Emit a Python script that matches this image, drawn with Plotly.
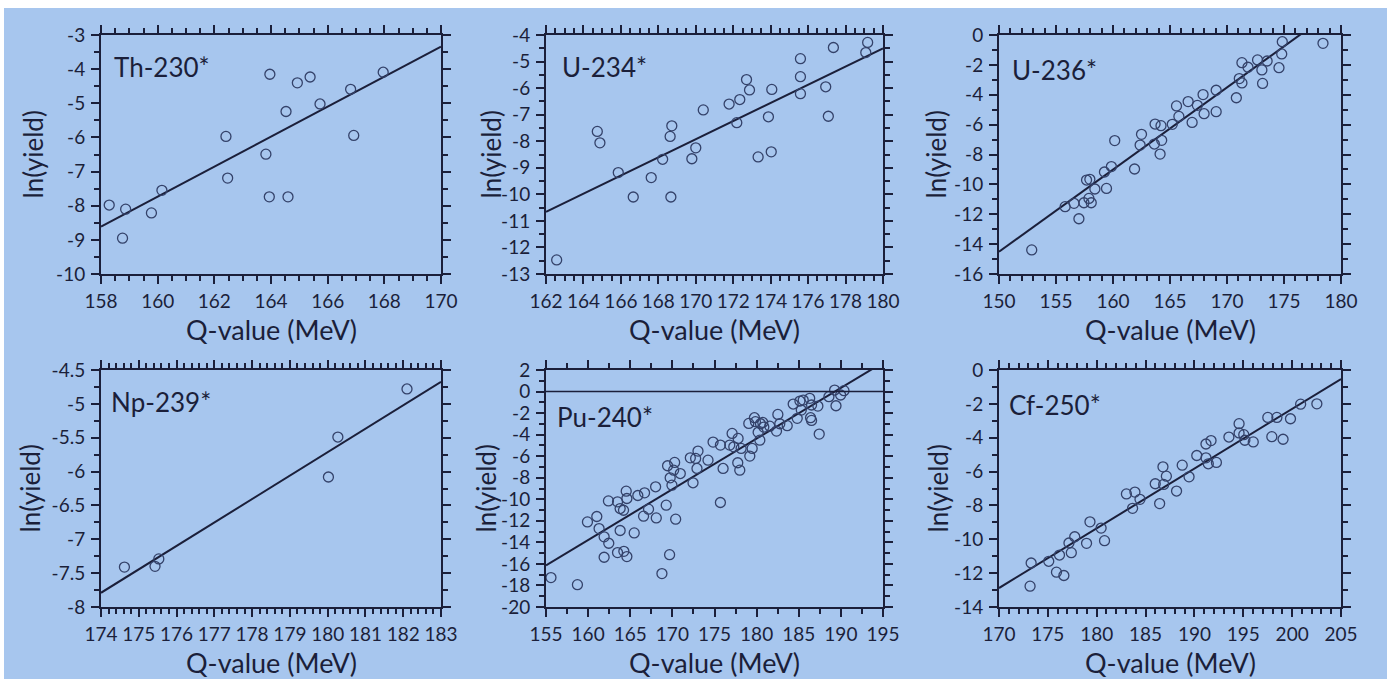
import plotly.graph_objects as go

# ---- data: Q-value (MeV) vs ln(yield) for each fissioning nucleus ----
th230_q = [158.29, 158.87, 158.76, 159.78, 160.15, 162.41, 162.47, 163.82, 163.96,
           163.94, 164.60, 164.53, 164.93, 165.38, 165.73, 166.81, 166.92, 167.96]
th230_y = [-7.98, -8.10, -8.95, -8.21, -7.55, -5.97, -7.19, -6.49, -4.15,
           -7.74, -7.74, -5.24, -4.40, -4.23, -5.02, -4.59, -5.94, -4.09]

u234_q = [162.57, 164.74, 164.88, 165.86, 166.66, 167.62, 168.23, 168.63, 168.72, 168.67,
          169.79, 170.00, 170.40, 171.78, 172.19, 172.35, 172.71, 172.87, 173.33, 173.88,
          174.06, 174.03, 175.59, 175.59, 175.59, 176.94, 177.08, 177.35, 179.08, 179.18]
u234_y = [-12.47, -7.63, -8.06, -9.18, -10.10, -9.37, -8.68, -7.82, -7.42, -10.10,
          -8.66, -8.25, -6.82, -6.60, -7.30, -6.43, -5.68, -6.07, -8.59, -7.08,
          -6.05, -8.40, -4.89, -5.57, -6.21, -5.95, -7.06, -4.47, -4.66, -4.28]

u236_q = [152.87, 155.80, 156.58, 157.01, 157.45, 157.68, 157.97, 157.89, 158.09, 158.41,
          159.25, 159.43, 159.86, 160.15, 161.89, 162.38, 162.50, 163.63, 163.69, 164.13,
          164.21, 164.27, 165.20, 165.57, 165.78, 166.59, 166.94, 167.40, 167.90, 167.99,
          169.05, 169.05, 170.82, 171.08, 171.31, 171.31, 171.84, 172.68, 173.06, 173.12,
          173.52, 174.56, 174.80, 174.85, 178.42]
u236_y = [-14.39, -11.49, -11.27, -12.30, -11.23, -9.71, -9.66, -10.94, -11.23, -10.31,
          -9.17, -10.27, -8.81, -7.07, -8.97, -7.37, -6.65, -7.30, -5.96, -7.97,
          -6.07, -7.05, -5.98, -4.75, -5.45, -4.46, -5.85, -4.71, -3.99, -5.27,
          -3.70, -5.13, -4.20, -2.92, -3.21, -1.85, -2.16, -1.67, -2.34, -3.24,
          -1.74, -2.19, -1.27, -0.45, -0.56]

np239_q = [174.62, 175.43, 175.53, 180.02, 180.27, 182.10]
np239_y = [-7.41, -7.40, -7.29, -6.08, -5.49, -4.78]

pu240_q = [155.59, 158.73, 159.92, 161.03, 161.30, 161.90, 162.45, 161.90, 162.41, 163.49,
           163.80, 164.20, 163.80, 163.49, 164.24, 164.60, 164.52, 164.60, 165.47, 165.90,
           166.70, 166.58, 167.17, 168.01, 168.09, 168.76, 169.27, 169.67, 169.43, 169.74,
           169.95, 170.27, 170.15, 170.39, 170.94, 172.13, 172.45, 172.76, 173.04, 172.92,
           174.23, 174.83, 175.70, 175.70, 176.02, 176.81, 177.09, 177.29, 177.80, 177.76,
           178.00, 178.16, 179.07, 179.19, 179.47, 179.74, 179.86, 180.18, 180.46, 180.38,
           180.73, 180.85, 181.56, 182.36, 182.52, 182.75, 183.63, 184.34, 184.82, 185.14,
           185.53, 185.30, 186.30, 186.40, 186.52, 186.52, 187.27, 187.43, 188.58, 189.26,
           189.42, 189.97, 190.37]
pu240_y = [-17.27, -17.93, -12.10, -11.60, -12.72, -13.49, -14.08, -15.38, -10.15, -10.24,
           -10.86, -11.02, -12.90, -14.95, -14.83, -15.32, -9.25, -9.93, -13.12, -9.65,
           -9.40, -11.57, -10.92, -8.84, -11.73, -16.90, -10.55, -15.14, -6.89, -8.01,
           -8.69, -6.58, -7.30, -11.85, -7.61, -6.15, -8.47, -6.21, -5.53, -7.14,
           -6.37, -4.69, -4.97, -10.30, -7.14, -4.97, -3.89, -5.13, -4.35, -6.61,
           -7.30, -5.28, -2.96, -5.99, -5.28, -2.43, -2.80, -3.79, -2.99, -4.51,
           -2.87, -3.30, -3.21, -3.67, -2.12, -2.99, -3.17, -1.16, -2.49, -0.88,
           -0.79, -1.72, -0.63, -2.43, -2.68, -1.25, -1.35, -3.95, -0.48, 0.14,
           -1.32, -0.32, 0.08]

cf250_q = [173.18, 173.29, 175.09, 175.88, 176.19, 176.64, 177.16, 177.40, 177.75, 178.96,
           179.31, 180.45, 180.80, 183.04, 183.91, 183.67, 184.43, 185.99, 186.44, 186.78,
           186.85, 187.13, 188.17, 188.75, 189.45, 190.24, 191.18, 191.18, 191.42, 191.70,
           192.25, 193.53, 194.57, 194.57, 195.05, 195.16, 196.02, 197.51, 198.44, 197.92,
           199.07, 199.83, 200.87, 202.53]
cf250_y = [-12.77, -11.40, -11.30, -11.94, -10.93, -12.14, -10.22, -10.79, -9.85, -10.24,
           -8.97, -9.34, -10.08, -7.32, -7.21, -8.17, -7.64, -6.72, -7.89, -5.72,
           -6.76, -6.27, -7.15, -5.62, -6.31, -5.05, -4.37, -5.19, -5.54, -4.17,
           -5.46, -3.96, -3.17, -3.72, -3.82, -4.15, -4.25, -2.80, -2.80, -3.94,
           -4.09, -2.88, -2.02, -2.00]

# linear fits: ln(yield) at the left edge of the Q range, and slope per MeV
fit_start = [-8.61, -10.66, -14.51, -7.79, -16.13, -12.88]
fit_slope = [0.439, 0.342, 0.550, 0.346, 0.4705, 0.3528]

names = ["Th-230*", "U-234*", "U-236*", "Np-239*", "Pu-240*", "Cf-250*"]
q_data = [th230_q, u234_q, u236_q, np239_q, pu240_q, cf250_q]
y_data = [th230_y, u234_y, u236_y, np239_y, pu240_y, cf250_y]

x_ranges = [[158, 170], [162, 180], [150, 180], [174, 183], [155, 195], [170, 205]]
y_ranges = [[-10, -3], [-13, -4], [-16, 0], [-8, -4.5], [-20, 2], [-14, 0]]
x_dtick = [2, 2, 5, 1, 5, 5]
x_minor = [0.5, 0.5, 1, 0.2, 2.5, 1]
y_dtick = [1, 1, 2, 0.5, 2, 2]
y_minor = [0.5, 0.5, 1, 0.25, 1, 1]

# ---- layout geometry (pixels) ----
W, H = 1391, 683
cols = [(101, 441), (546, 883), (999, 1341)]
rows = [(35, 274), (370, 607)]
ytitle_shift = [-69, -56, -64, -72, -61, -62]
label_shift = [(11, -32), (14, -32), (11, -35), (8, -32), (9, -47), (8, -35)]
MAJOR_LEN, MINOR_LEN = 8, 5

INK = "#1b1f3a"
MARK = "#34426a"
BG = "#a7c6ee"
FONT = "Lato"


def steps(lo, hi, step):
    """Evenly spaced values from lo to hi inclusive."""
    out, k = [], 0
    while True:
        v = round(lo + k * step, 6)
        if v > hi + 1e-9:
            return out
        out.append(v)
        k += 1


def minor_ticks(start, step):
    return dict(ticks="outside", ticklen=MINOR_LEN, tickwidth=1.6, tickcolor=INK,
                tickmode="linear", tick0=start, dtick=step, showgrid=False)


fig = go.Figure()
annotations = []
layout_axes = {}

for i in range(6):
    r, c = divmod(i, 3)
    n = i + 1
    xa = "x" if n == 1 else f"x{n}"
    ya = "y" if n == 1 else f"y{n}"
    xkey = "xaxis" if n == 1 else f"xaxis{n}"
    ykey = "yaxis" if n == 1 else f"yaxis{n}"

    x0, x1 = x_ranges[i]
    y0, y1 = y_ranges[i]
    fit_x = [x0, x1]
    fit_y = [fit_start[i] + fit_slope[i] * (v - x0) for v in fit_x]

    fig.add_trace(go.Scatter(
        x=fit_x, y=fit_y, mode="lines", xaxis=xa, yaxis=ya,
        line=dict(color=INK, width=2), showlegend=False, hoverinfo="skip"))
    fig.add_trace(go.Scatter(
        x=q_data[i], y=y_data[i], mode="markers", xaxis=xa, yaxis=ya,
        marker=dict(symbol="circle-open", size=10, color=MARK, line=dict(width=1.3)),
        showlegend=False, cliponaxis=False))

    cl, cr = cols[c]
    rt, rb = rows[r]
    xv = steps(x0, x1, x_dtick[i])
    yv = steps(y0, y1, y_dtick[i])
    tickfont = dict(family=FONT, size=19, color=INK)
    # boxed frame: ticks mirrored onto the top and right edges
    common = dict(
        showgrid=False, zeroline=False, showline=True, linecolor=INK, linewidth=2,
        mirror="ticks", ticks="outside", ticklen=MAJOR_LEN, tickwidth=2, tickcolor=INK,
        tickfont=tickfont, tickangle=0, automargin=False, tickmode="array",
    )
    layout_axes[xkey] = dict(
        common, domain=[cl / W, cr / W], range=x_ranges[i], anchor=ya,
        tickvals=xv, ticktext=["%g" % v for v in xv], ticklabelstandoff=1,
        minor=minor_ticks(x0, x_minor[i]),
    )
    layout_axes[ykey] = dict(
        common, domain=[1 - rb / H, 1 - rt / H], range=y_ranges[i], anchor=xa,
        tickvals=yv, ticktext=["%g" % v for v in yv], ticklabelstandoff=2,
        minor=minor_ticks(y0, y_minor[i]),
    )

    annotations.append(dict(
        text=names[i], xref=f"{xa} domain", yref=f"{ya} domain", x=0, y=1,
        xanchor="left", yanchor="middle", xshift=label_shift[i][0], yshift=label_shift[i][1],
        showarrow=False, font=dict(family=FONT, size=26, color=INK)))
    annotations.append(dict(
        text="Q-value (MeV)", xref=f"{xa} domain", yref=f"{ya} domain", x=0.5, y=0,
        xanchor="center", yanchor="middle", yshift=-55,
        showarrow=False, font=dict(family=FONT, size=27, color=INK)))
    annotations.append(dict(
        text="ln(yield)", xref=f"{xa} domain", yref=f"{ya} domain", x=0, y=0.5,
        xanchor="center", yanchor="middle", xshift=ytitle_shift[i], textangle=-90,
        showarrow=False, font=dict(family=FONT, size=26, color=INK)))

shapes = [
    dict(type="rect", xref="paper", yref="paper", x0=4 / W, x1=1387 / W,
         y0=1 - 679 / H, y1=1 - 8 / H, fillcolor=BG, line=dict(width=0), layer="below"),
    # ln(yield) = 0 reference line in the Pu-240 panel
    dict(type="line", xref="x5 domain", yref="y5", x0=0, x1=1, y0=0, y1=0,
         line=dict(color=INK, width=1.5)),
]

fig.update_layout(
    width=W, height=H, margin=dict(l=0, r=0, t=0, b=0, pad=0, autoexpand=False),
    paper_bgcolor="white", plot_bgcolor="rgba(0,0,0,0)",
    annotations=annotations, shapes=shapes, **layout_axes,
)

fig.write_html("out.html")
